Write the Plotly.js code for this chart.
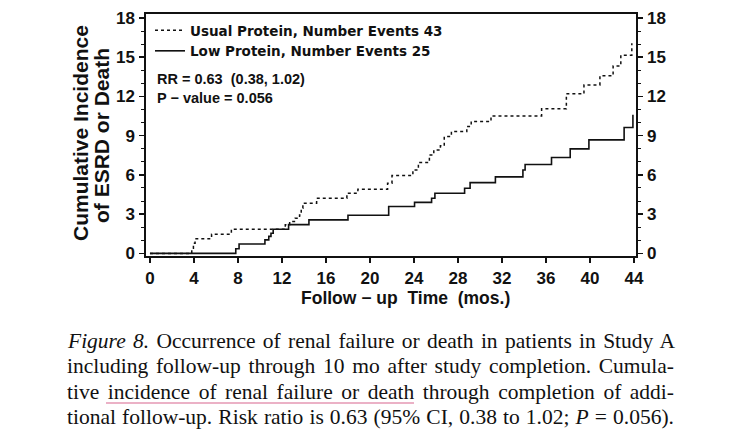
<!DOCTYPE html>
<html>
<head>
<meta charset="utf-8">
<script src="https://cdn.plot.ly/plotly-3.0.1.min.js"></script>
<style>
  html, body { margin: 0; padding: 0; background: #fff; }
  #chart { width: 740px; height: 438px; }
</style>
</head>
<body>
<div id="chart"></div>
<script>
// ---- Data ----
var usualName = 'Usual Protein, Number Events 43';
var lowName = 'Low Protein, Number Events 25';
var usualTime = [0, 3.8, 3.95, 4.1, 5.6, 7.4, 12.3, 12.7, 13.2, 13.6, 13.75, 13.9, 15.15, 17.9, 18.9, 21.6, 22.0, 23.9, 24.4, 25.4, 25.8, 26.4, 26.75, 27.4, 28.8, 29.2, 31.0, 35.6, 37.85, 39.45, 40.9, 42.1, 42.8, 43.8];
var usualCum  = [0, 0.4, 0.78, 1.12, 1.47, 1.85, 2.18, 2.43, 2.69, 2.94, 3.45, 3.84, 4.22, 4.6, 4.9, 5.37, 5.95, 6.38, 6.94, 7.53, 7.9, 8.22, 8.93, 9.31, 9.7, 10.08, 10.51, 11.05, 12.2, 12.88, 13.57, 14.33, 15.15, 16.07];
var lowTime = [0, 7.8, 8.1, 10.45, 10.8, 11.0, 11.2, 12.6, 14.45, 18.0, 21.7, 24.05, 25.6, 25.9, 28.6, 29.1, 31.4, 33.9, 34.1, 36.5, 38.2, 39.9, 43.1, 43.9];
var lowCum  = [0, 0.35, 0.72, 1.03, 1.3, 1.54, 1.85, 2.2, 2.56, 2.92, 3.58, 3.9, 4.22, 4.6, 4.98, 5.41, 5.85, 6.38, 6.8, 7.33, 7.99, 8.68, 9.62, 10.59];
var xTicks = [0, 4, 8, 12, 16, 20, 24, 28, 32, 36, 40, 44];
var yTicks = [0, 3, 6, 9, 12, 15, 18];
var statsText = 'RR = 0.63  (0.38, 1.02)<br>P − value = 0.056';
var xTitle = 'Follow − up  Time  (mos.)';
var yTitleLines = ['Cumulative Incidence', 'of ESRD or Death'];
var captionLines = [
  '<i>Figure 8.</i> Occurrence of renal failure or death in patients in Study A',
  'including follow-up through 10 mo after study completion. Cumula-',
  'tive incidence of renal failure or death through completion of addi-',
  'tional follow-up. Risk ratio is 0.63 (95% CI, 0.38 to 1.02; <i>P</i> = 0.056).'
];

// ---- Layout helpers (pixel -> paper) ----
var W = 740, H = 438;
var M = { l: 146, r: 104, t: 14, b: 182 };
var PW = W - M.l - M.r, PH = H - M.t - M.b;
function px(x) { return (x - M.l) / PW; }
function py(y) { return (H - M.b - y) / PH; }

var SANS = 'Liberation Sans, Arial, Helvetica, sans-serif';
var WIDE = 'DejaVu Sans, Verdana, sans-serif';
var SERIF = 'Liberation Serif, Times New Roman, serif';

var traces = [
  { x: usualTime, y: usualCum, name: usualName, mode: 'lines', yaxis: 'y',
    line: { shape: 'hv', dash: 'dot', width: 1.5, color: '#111' }, hoverinfo: 'skip' },
  { x: lowTime, y: lowCum, name: lowName, mode: 'lines', yaxis: 'y2',
    line: { shape: 'hv', width: 1.6, color: '#111' }, hoverinfo: 'skip' }
];

var yCommon = {
  range: [-0.2, 18.3], tickmode: 'array', tickvals: yTicks, ticktext: yTicks.map(String),
  ticks: 'outside', ticklen: 5, tickwidth: 1.5, tickcolor: '#111', ticklabelstandoff: 1,
  minor: { tick0: 0, dtick: 1, ticks: 'outside', ticklen: 3, tickwidth: 1, tickcolor: '#111' },
  showline: true, linewidth: 1.6, linecolor: '#111',
  showgrid: false, zeroline: false, fixedrange: true,
  tickfont: { family: SANS, size: 17, weight: 'bold', color: '#111' }
};

var layout = {
  width: W, height: H,
  margin: M,
  paper_bgcolor: '#fff', plot_bgcolor: '#fff',
  showlegend: true,
  legend: {
    x: px(150), y: py(15), xanchor: 'left', yanchor: 'top',
    bgcolor: 'rgba(0,0,0,0)', borderwidth: 0, tracegroupgap: 0,
    font: { family: WIDE, size: 13.5, weight: 'bold', color: '#111' }
  },
  xaxis: {
    range: [-0.36, 44.18], tickmode: 'array', tickvals: xTicks, ticktext: xTicks.map(String),
    ticks: 'outside', ticklen: 5, tickwidth: 1.5, tickcolor: '#111', ticklabelstandoff: 1,
    showline: true, mirror: true, linewidth: 1.6, linecolor: '#111',
    showgrid: false, zeroline: false, fixedrange: true,
    tickfont: { family: SANS, size: 17, weight: 'bold', color: '#111' }
  },
  yaxis: Object.assign({}, yCommon, { side: 'left' }),
  yaxis2: Object.assign({}, yCommon, { side: 'right', overlaying: 'y' }),
  annotations: [
    { xref: 'paper', yref: 'paper', x: px(155), y: py(69), xanchor: 'left', yanchor: 'top',
      align: 'left', showarrow: false, text: statsText,
      font: { family: SANS, size: 14.5, weight: 'bold', color: '#111' } },
    { xref: 'paper', yref: 'paper', x: px(405), y: py(298), xanchor: 'center', yanchor: 'middle',
      showarrow: false, text: xTitle,
      font: { family: SANS, size: 17.5, weight: 'bold', color: '#111' } },
    { xref: 'paper', yref: 'paper', x: px(80), y: py(133), xanchor: 'center', yanchor: 'middle',
      textangle: -90, showarrow: false, text: yTitleLines[0],
      font: { family: SANS, size: 21, weight: 'bold', color: '#111' } },
    { xref: 'paper', yref: 'paper', x: px(101), y: py(136), xanchor: 'center', yanchor: 'middle',
      textangle: -90, showarrow: false, text: yTitleLines[1],
      font: { family: SANS, size: 21, weight: 'bold', color: '#111' } }
  ].concat(captionLines.map(function (t, i) {
    return { xref: 'paper', yref: 'paper', x: px(65), y: py(341 + i * 25.3), xanchor: 'left', yanchor: 'middle',
      align: 'left', showarrow: false, text: t, name: 'caption' + i,
      font: { family: SERIF, size: 21.5, color: '#111' } };
  })),
  shapes: [
    { type: 'line', xref: 'paper', yref: 'paper', x0: px(106), x1: px(414), y0: py(403), y1: py(403),
      line: { color: '#e597b3', width: 1.5 } }
  ]
};

Plotly.newPlot('chart', traces, layout, { staticPlot: true, displayModeBar: false }).then(function () {
  // justify caption lines like the printed figure legend
  var target = 607;
  var anns = document.querySelectorAll('#chart .annotation');
  anns.forEach(function (g) {
    var idx = +g.getAttribute('data-index');
    if (idx < 4) return;
    var t = g.querySelector('text.annotation-text');
    if (!t) return;
    var len = t.getComputedTextLength();
    var n = (t.textContent.match(/ /g) || []).length;
    if (n > 0) t.style.wordSpacing = ((target - len) / n) + 'px';
  });
});
</script>
</body>
</html>
